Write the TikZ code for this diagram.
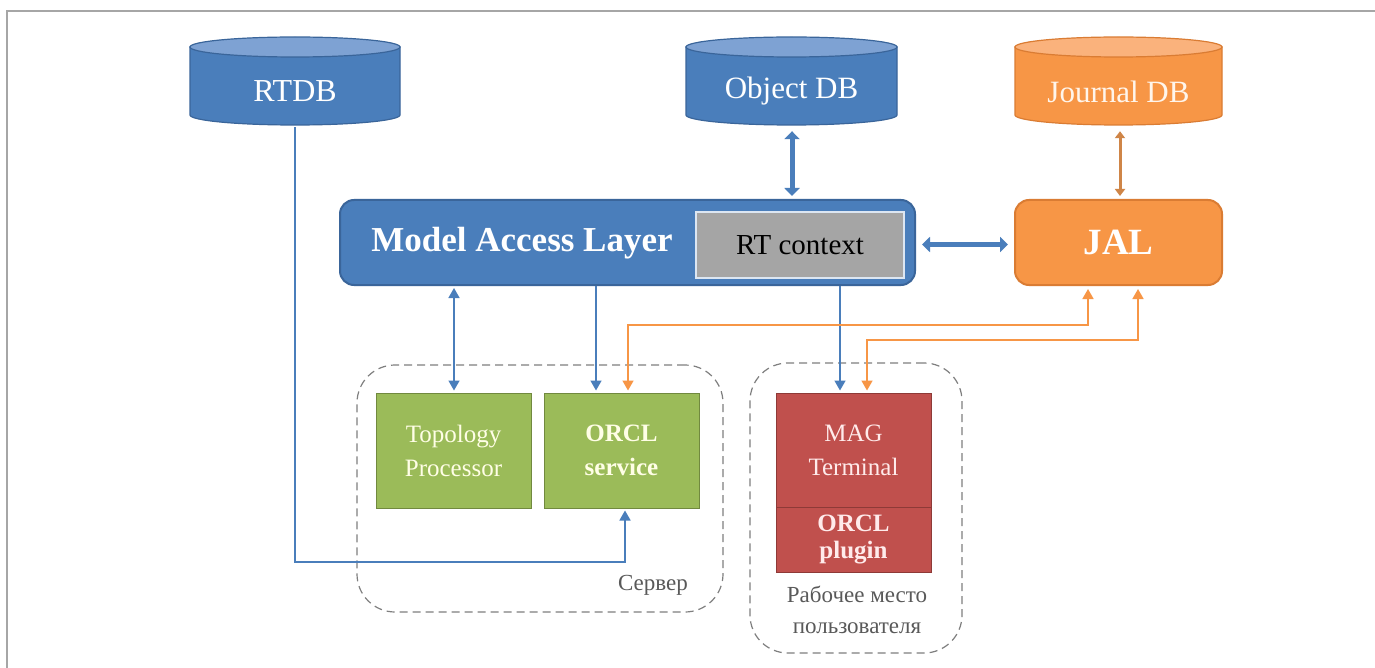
\documentclass[tikz,border=0pt]{standalone}
\usepackage{fontspec}
\setmainfont{Liberation Serif}
\usetikzlibrary{arrows.meta,calc}

\definecolor{bluebody}{HTML}{4A7EBB}
\definecolor{bluetop}{HTML}{7EA2D3}
\definecolor{blueedge}{HTML}{3A659A}
\definecolor{orangebody}{HTML}{F79646}
\definecolor{orangetop}{HTML}{FAB27C}
\definecolor{orangeedge}{HTML}{DA7C33}
\definecolor{greenbody}{HTML}{9BBB59}
\definecolor{greenedge}{HTML}{71893F}
\definecolor{redbody}{HTML}{C0504D}
\definecolor{rededge}{HTML}{8E3A37}
\definecolor{ctxgray}{HTML}{A5A5A5}
\definecolor{ctxedge}{HTML}{DCE6F2}
\definecolor{linkblue}{HTML}{4A7EBB}
\definecolor{linkorange}{HTML}{F79646}
\definecolor{linkbrown}{HTML}{CF8547}
\definecolor{groupgray}{HTML}{7F7F7F}
\definecolor{labelgray}{HTML}{595959}
\definecolor{framegray}{HTML}{A6A6A6}

% database drum: left x, right x, body colour, lid colour, edge colour
\newcommand\drawdb[5]{%
  \pgfmathsetmacro\dbrx{(#2-#1)/2}%
  \filldraw[fill=#3,draw=#5,line width=1.2pt]
    (#1,47) -- (#1,115) arc[start angle=180,end angle=360,x radius=\dbrx pt,y radius=10pt]
    -- (#2,47) -- cycle;
  \filldraw[fill=#4,draw=#5,line width=1.2pt]
    ({(#1+#2)/2},47) ellipse[x radius=\dbrx pt,y radius=10pt];
}

\begin{document}
\begin{tikzpicture}[x=1pt,y=-1pt,
  dbnode/.style={rectangle,inner sep=0pt,text=white,font=\fontsize{31}{36}\selectfont},
  layerbox/.style={rectangle,rounded corners=14pt,line width=2pt,inner sep=0pt},
  procbox/.style={rectangle,line width=1pt,inner sep=0pt,align=center,
    minimum width=155,font=\fontsize{25}{34}\selectfont},
  group/.style={draw=groupgray,dashed,dash pattern=on 8pt off 5pt,line width=1.2pt,rounded corners=38pt},
  thinlink/.style={line width=1.6pt,-{Triangle[length=10pt,width=11pt]}},
  bothlink/.style={line width=1.6pt,{Triangle[length=10pt,width=11pt]}-{Triangle[length=10pt,width=11pt]}},
  fatlink/.style={line width=5pt,{Triangle[length=8pt,width=15pt]}-{Triangle[length=8pt,width=15pt]}},
  grouplabel/.style={text=labelgray,font=\fontsize{23}{31}\selectfont,align=center,inner sep=0pt}
]
\useasboundingbox (0,0) rectangle (1375,668);
\fill[white] (0,0) rectangle (1375,668);

% outer frame
\draw[framegray,line width=2pt] (7,668) -- (7,11) -- (1375,11);

% databases
\drawdb{190}{400}{bluebody}{bluetop}{blueedge}
\drawdb{686}{897}{bluebody}{bluetop}{blueedge}
\drawdb{1015}{1222}{orangebody}{orangetop}{orangeedge}
\node[dbnode,minimum width=210,minimum height=67,font=\fontsize{32}{36}\selectfont] (rtdb) at (295,91.5) {RTDB};
\node[dbnode,minimum width=211,minimum height=67] (objdb) at (791.5,91.5) {Object DB};
\node[dbnode,minimum width=207,minimum height=67,text=white!92!orange] (jdb) at (1118.5,91.5) {Journal DB};

% model access layer with its real-time context
\node[layerbox,fill=bluebody,draw=blueedge,minimum width=575,minimum height=85] (mal) at (627.5,242.5) {};
\node[font=\bfseries\fontsize{35}{40}\selectfont,text=white,inner sep=0pt] (maltext) at (522,243) {Model Access Layer};
\node[rectangle,fill=ctxgray,draw=ctxedge,line width=2pt,minimum width=208,minimum height=66,
  font=\fontsize{29}{34}\selectfont,inner sep=0pt] (ctx) at (800,245) {RT context};

% journal access layer
\node[layerbox,fill=orangebody,draw=orangeedge,minimum width=207,minimum height=85,
  font=\bfseries\fontsize{37}{40}\selectfont,text=white] (jal) at (1118.5,242.5) {JAL};

% server group
\node[group,minimum width=366,minimum height=247] (server) at (540,488.5) {};
\node[procbox,fill=greenbody,draw=greenedge,minimum height=115,text=white!90!yellow] (topo) at (453.5,450.5) {Topology\\Processor};
\node[procbox,fill=greenbody,draw=greenedge,minimum height=115,text=white!90!yellow,font=\bfseries\fontsize{25}{34}\selectfont] (orcl) at (621.5,450.5) {ORCL\\service};
\node[grouplabel] (serverlabel) at (653,585) {Сервер};

% user workplace group
\node[group,minimum width=212,minimum height=290] (work) at (856,508) {};
\node[procbox,fill=redbody,draw=rededge,minimum height=114,text=white!92!red] (mag) at (853.5,450) {MAG\\Terminal};
\node[procbox,fill=redbody,draw=rededge,minimum height=65,text=white!92!red,font=\bfseries\fontsize{25}{27}\selectfont] (plugin) at (853.5,539.5) {ORCL\\plugin};
\node[grouplabel] (worklabel) at (857,610) {Рабочее место\\пользователя};

% thick links
\draw[fatlink,linkblue] ($(objdb.south -| 792,0)+(0,6)$) -- ($(mal.north -| 792,0)+(0,-3)$);
\draw[fatlink,linkblue] ($(mal.east)+(6,2)$) -- ($(jal.west)+(-6,2)$);
\draw[line width=3pt,linkbrown,{Triangle[length=7pt,width=10pt]}-{Triangle[length=7pt,width=10pt]}]
  ($(jdb.south -| 1120,0)+(0,6)$) -- ($(jal.north -| 1120,0)+(0,-3)$);

% thin links
\draw[bothlink,linkblue] ($(mal.south -| 454,0)+(0,2)$) -- ($(topo.north -| 454,0)+(0,-2)$);
\draw[thinlink,linkblue] (mal.south -| 596,0) -- ($(orcl.north -| 596,0)+(0,-2)$);
\draw[thinlink,linkblue] (mal.south -| 840,0) -- ($(mag.north -| 840,0)+(0,-2)$);
\draw[bothlink,linkorange] ($(orcl.north -| 628,0)+(0,-2)$) -- (628,325) -- (1088,325) -- ($(jal.south -| 1088,0)+(0,3)$);
\draw[bothlink,linkorange] ($(mag.north -| 867,0)+(0,-2)$) -- (867,340) -- (1138,340) -- ($(jal.south -| 1138,0)+(0,3)$);
\draw[thinlink,linkblue] ($(rtdb.south -| 295,0)+(0,2)$) -- (295,562) -- (625,562) -- ($(orcl.south -| 625,0)+(0,2)$);
\end{tikzpicture}
\end{document}
